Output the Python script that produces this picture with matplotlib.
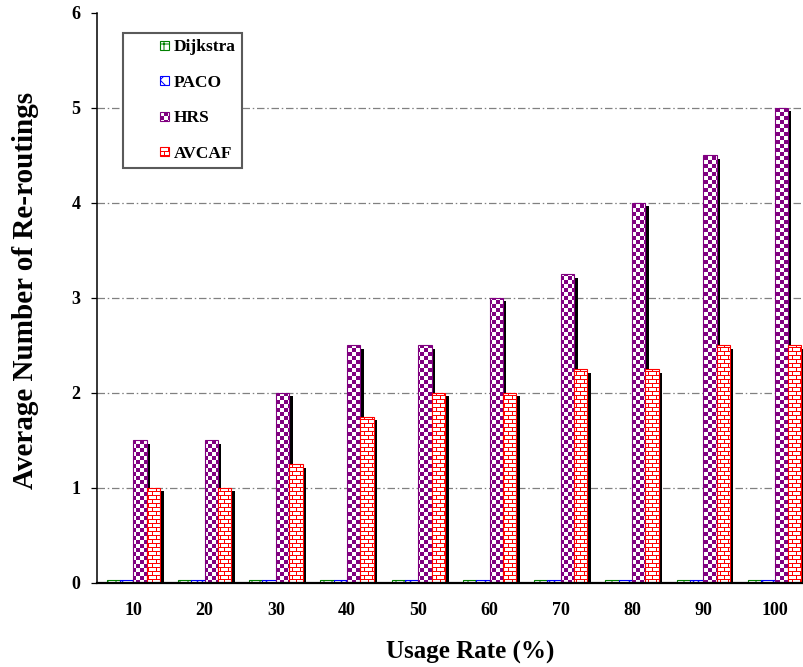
import numpy as np
import matplotlib
matplotlib.use('Agg')
import matplotlib.pyplot as plt
from matplotlib import hatch as mhatch
from matplotlib.path import Path
from matplotlib.patches import Rectangle
from matplotlib.legend_handler import HandlerPatch
from matplotlib.transforms import ScaledTranslation
from matplotlib.font_manager import FontProperties

# ---------------- data ----------------
categories = ['10', '20', '30', '40', '50', '60', '70', '80', '90', '100']
series_names = ['Dijkstra', 'PACO', 'HRS', 'AVCAF']
dijkstra = [0.03, 0.03, 0.03, 0.03, 0.03, 0.03, 0.03, 0.03, 0.03, 0.03]
paco = [0.03, 0.03, 0.03, 0.03, 0.03, 0.03, 0.03, 0.03, 0.03, 0.03]
hrs = [1.5, 1.5, 2.0, 2.5, 2.5, 3.0, 3.25, 4.0, 4.5, 5.0]
avcaf = [1.0, 1.0, 1.25, 1.75, 2.0, 2.0, 2.25, 2.25, 2.5, 2.5]
y_ticks = [0, 1, 2, 3, 4, 5, 6]
x_label = 'Usage Rate (%)'
y_label = 'Average Number of Re-routings'

DPI = 96  # hatch tile = DPI pixels

# ---------------- custom hatches ----------------
class CheckerHatch(mhatch.HatchPatternBase):
    def __init__(self, hatch, density):
        self.on = 'o' in hatch
        self.n = 24  # 4 px cells
        self.num_vertices = (self.n * self.n // 2) * 5 if self.on else 0

    def set_vertices_and_codes(self, vertices, codes):
        n = self.n
        s = 1.0 / n
        inset = 0.5 / DPI
        verts = []
        for i in range(n):
            for j in range(n):
                if (i + j) % 2 == 0:
                    x0, y0 = i * s + inset, j * s + inset
                    x1, y1 = (i + 1) * s - inset, (j + 1) * s - inset
                    verts += [(x0, y0), (x1, y0), (x1, y1), (x0, y1), (x0, y0)]
        vertices[:] = np.array(verts)
        k = len(verts) // 5
        codes[:] = [Path.MOVETO, Path.LINETO, Path.LINETO, Path.LINETO,
                    Path.CLOSEPOLY] * k


class BrickHatch(mhatch.HatchPatternBase):
    def __init__(self, hatch, density):
        self.on = 'O' in hatch
        self.ch = 4   # row height px
        self.cw = 8   # brick width px
        self.rows = DPI // self.ch
        self.cols = DPI // self.cw
        self.num_vertices = (self.rows * 2 + self.rows * self.cols * 2) if self.on else 0

    def set_vertices_and_codes(self, vertices, codes):
        verts = []
        cds = []
        for r in range(self.rows):
            y = (r * self.ch + 0.5) / DPI
            verts += [(0.0, y), (1.0, y)]
            cds += [Path.MOVETO, Path.LINETO]
        for r in range(self.rows):
            y0 = (r * self.ch + 0.5) / DPI
            y1 = ((r + 1) * self.ch + 0.5) / DPI
            for c in range(self.cols):
                px = c * self.cw + (self.cw // 2) * (r % 2) + 0.5
                verts += [(px / DPI, y0), (px / DPI, y1)]
                cds += [Path.MOVETO, Path.LINETO]
        vertices[:] = np.array(verts)
        codes[:] = cds


mhatch._hatch_types = [mhatch.HorizontalHatch, mhatch.VerticalHatch,
                       mhatch.NorthEastHatch, mhatch.SouthEastHatch,
                       CheckerHatch, BrickHatch]

# ---------------- style ----------------
plt.rcParams['font.family'] = ['Liberation Serif', 'DejaVu Serif']
plt.rcParams['font.weight'] = 'bold'
plt.rcParams['hatch.linewidth'] = 0.75

k = 100.0 / DPI  # keep pixel sizes equal to a 100-dpi layout

fig = plt.figure(figsize=(803 / DPI, 667 / DPI), dpi=DPI)
ax = fig.add_axes([0.1208, 0.126, 0.8792, 0.8546])

x = np.arange(len(categories))
w = 0.1875
series = [dijkstra, paco, hrs, avcaf]
colors = ['#008000', '#0000FF', '#800080', '#FF0000']
hatches = ['++', 'xx', 'o', 'O']
shadow = [False, False, True, True]

shadow_tr = ax.transData + ScaledTranslation(3.5 / DPI, -3.5 / DPI, fig.dpi_scale_trans)
handles = []
for i, (vals, col, h, sh) in enumerate(zip(series, colors, hatches, shadow)):
    pos = x + (i - 1.5) * w
    z = 3 + 2 * i
    if sh:
        ax.bar(pos, vals, width=w, color='black', linewidth=0,
               transform=shadow_tr, zorder=z)
    bc = ax.bar(pos, vals, width=w, facecolor='white', edgecolor=col,
                hatch=h, linewidth=0.8 * k, zorder=z + 1, label=series_names[i])
    handles.append(bc.patches[0])

ax.set_xlim(-0.51, 9.40)
ax.set_ylim(0, 6)
ax.set_yticks(y_ticks)
ax.set_xticks(x)
ax.set_xticklabels(categories)

ax.yaxis.grid(True, color='#808080', linewidth=0.9 * k,
              linestyle=(0, (6, 2.2, 1.2, 2.2)))
ax.set_axisbelow(True)
ygl = ax.get_ygridlines()
ygl[0].set_visible(False)
ygl[-1].set_visible(False)

for s in ['top', 'right']:
    ax.spines[s].set_visible(False)
ax.spines['left'].set_linewidth(1.1 * k)
ax.spines['bottom'].set_linewidth(1.6 * k)
ax.spines['bottom'].set_zorder(20)

ax.tick_params(axis='y', direction='out', length=4 * k, width=0.9 * k,
               pad=8 * k, labelsize=13 * k)
ax.tick_params(axis='x', length=0, pad=14 * k, labelsize=13 * k)

ax.set_xlabel(x_label, fontsize=18 * k, fontweight='bold')
ax.set_ylabel(y_label, fontsize=21 * k, fontweight='bold')
ax.xaxis.set_label_coords(0.528, -0.102)
ax.yaxis.set_label_coords(-0.082, 0.514)


def make_square(legend, orig_handle, xdescent, ydescent, width, height, fontsize):
    s = 6.5 * k
    return Rectangle((-xdescent + width - s, -ydescent + (height - s) / 2), s, s)


leg = ax.legend(handles, series_names, loc='upper left',
                bbox_to_anchor=(0.0368, 0.965), borderaxespad=0,
                frameon=True, fancybox=False, shadow=False, framealpha=1,
                prop=FontProperties(family='Liberation Serif', weight='bold', size=12.5 * k),
                handlelength=2.3, handleheight=0.7, handletextpad=0.3,
                labelspacing=1.12, borderpad=0.35,
                handler_map={Rectangle: HandlerPatch(patch_func=make_square)})
leg.get_frame().set_edgecolor('#5a5a5a')
leg.get_frame().set_linewidth(1.5 * k)
leg.set_zorder(30)

fig.savefig('out.png', dpi=DPI)
